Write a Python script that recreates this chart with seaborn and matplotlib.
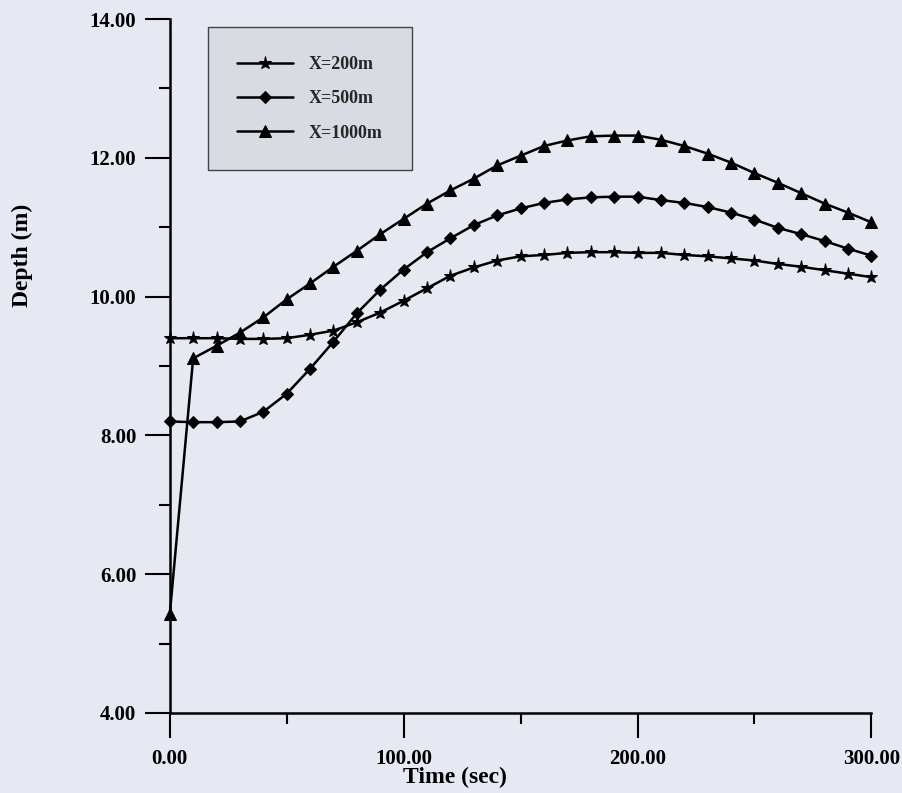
import numpy as np
import pandas as pd
import matplotlib
matplotlib.use("Agg")
import matplotlib.pyplot as plt
from matplotlib.ticker import MultipleLocator, FormatStrFormatter
import seaborn as sns

# ---- data ----
time_sec = [0, 10, 20, 30, 40, 50, 60, 70, 80, 90, 100, 110, 120, 130, 140, 150,
            160, 170, 180, 190, 200, 210, 220, 230, 240, 250, 260, 270, 280, 290, 300]

depth_x200 = [9.40, 9.40, 9.40, 9.39, 9.39, 9.40, 9.45, 9.51, 9.63, 9.77, 9.94,
              10.12, 10.30, 10.42, 10.52, 10.58, 10.60, 10.63, 10.64, 10.64, 10.63,
              10.63, 10.60, 10.58, 10.55, 10.52, 10.47, 10.43, 10.38, 10.33, 10.28]

depth_x500 = [8.20, 8.19, 8.19, 8.20, 8.34, 8.60, 8.96, 9.35, 9.76, 10.10, 10.39,
              10.64, 10.84, 11.03, 11.17, 11.27, 11.35, 11.40, 11.43, 11.44, 11.44,
              11.39, 11.35, 11.29, 11.21, 11.11, 10.99, 10.90, 10.80, 10.69, 10.59]

depth_x1000 = [5.42, 9.11, 9.29, 9.48, 9.70, 9.96, 10.19, 10.43, 10.66, 10.90, 11.12,
               11.34, 11.53, 11.70, 11.89, 12.03, 12.17, 12.25, 12.31, 12.32, 12.32,
               12.26, 12.17, 12.06, 11.93, 11.78, 11.64, 11.49, 11.34, 11.21, 11.07]

series_names = ["X=200m", "X=500m", "X=1000m"]
x_ticks = [0, 100, 200, 300]
y_ticks = [4, 6, 8, 10, 12, 14]

df = pd.concat([
    pd.DataFrame({"Time": time_sec, "Depth": d, "Section": name})
    for name, d in zip(series_names, [depth_x200, depth_x500, depth_x1000])
], ignore_index=True)

# ---- styling ----
sns.set_theme(style="ticks")
bg = "#e6e9f1"
plt.rcParams["font.family"] = ["Liberation Serif", "DejaVu Serif"]
plt.rcParams["font.weight"] = "bold"

fig = plt.figure(figsize=(9.03, 7.93), dpi=100, facecolor=bg)
ax = fig.add_axes([0.188, 0.101, 0.777, 0.875])
ax.set_facecolor(bg)

markers = {"X=200m": "*", "X=500m": "D", "X=1000m": "^"}
palette = {n: "black" for n in series_names}

sns.lineplot(data=df, x="Time", y="Depth", hue="Section", style="Section",
             markers=markers, dashes=False, palette=palette, ax=ax,
             linewidth=1.8, markersize=8, markeredgecolor="black",
             clip_on=False, legend=True, sort=False)

# adjust marker sizes per series
for line in ax.get_lines():
    m = line.get_marker()
    if m == "*":
        line.set_markersize(9.5)
    elif m == "D":
        line.set_markersize(6.5)
    elif m == "^":
        line.set_markersize(8)

ax.set_xlim(0, 300)
ax.set_ylim(4, 14)
ax.set_xticks(x_ticks)
ax.set_yticks(y_ticks)
ax.xaxis.set_minor_locator(MultipleLocator(50))
ax.yaxis.set_minor_locator(MultipleLocator(1))
ax.xaxis.set_major_formatter(FormatStrFormatter("%.2f"))
ax.yaxis.set_major_formatter(FormatStrFormatter("%.2f"))

for s in ["top", "right"]:
    ax.spines[s].set_visible(False)
for s in ["left", "bottom"]:
    ax.spines[s].set_linewidth(1.8)
    ax.spines[s].set_color("black")

ax.tick_params(axis="both", which="major", direction="out", length=18, width=1.5,
               color="black", labelsize=15, labelcolor="black")
ax.tick_params(axis="x", which="major", pad=8)
ax.tick_params(axis="y", which="major", pad=6)
ax.tick_params(axis="both", which="minor", direction="out", length=8, width=1.5,
               color="black")
for lab in ax.get_xticklabels() + ax.get_yticklabels():
    lab.set_fontweight("bold")

ax.set_xlabel("Time (sec)", fontsize=17, fontweight="bold", color="black")
ax.set_ylabel("Depth (m)", fontsize=17, fontweight="bold", color="black")
ax.xaxis.set_label_coords(0.407, -0.078)
ax.yaxis.set_label_coords(-0.195, 0.66)

handles, labels = ax.get_legend_handles_labels()
leg = ax.legend(handles, labels, loc="upper left", bbox_to_anchor=(0.054, 0.988),
                prop={"family": "Liberation Serif", "weight": "bold", "size": 13},
                frameon=True, fancybox=False, framealpha=1.0,
                facecolor="#d9dbe3", edgecolor="#444444",
                handlelength=3.1, handletextpad=0.9, labelspacing=0.95,
                borderpad=1.6, borderaxespad=0, numpoints=1)
leg.get_frame().set_linewidth(1.0)

fig.savefig("out.png", dpi=100, facecolor=bg)
